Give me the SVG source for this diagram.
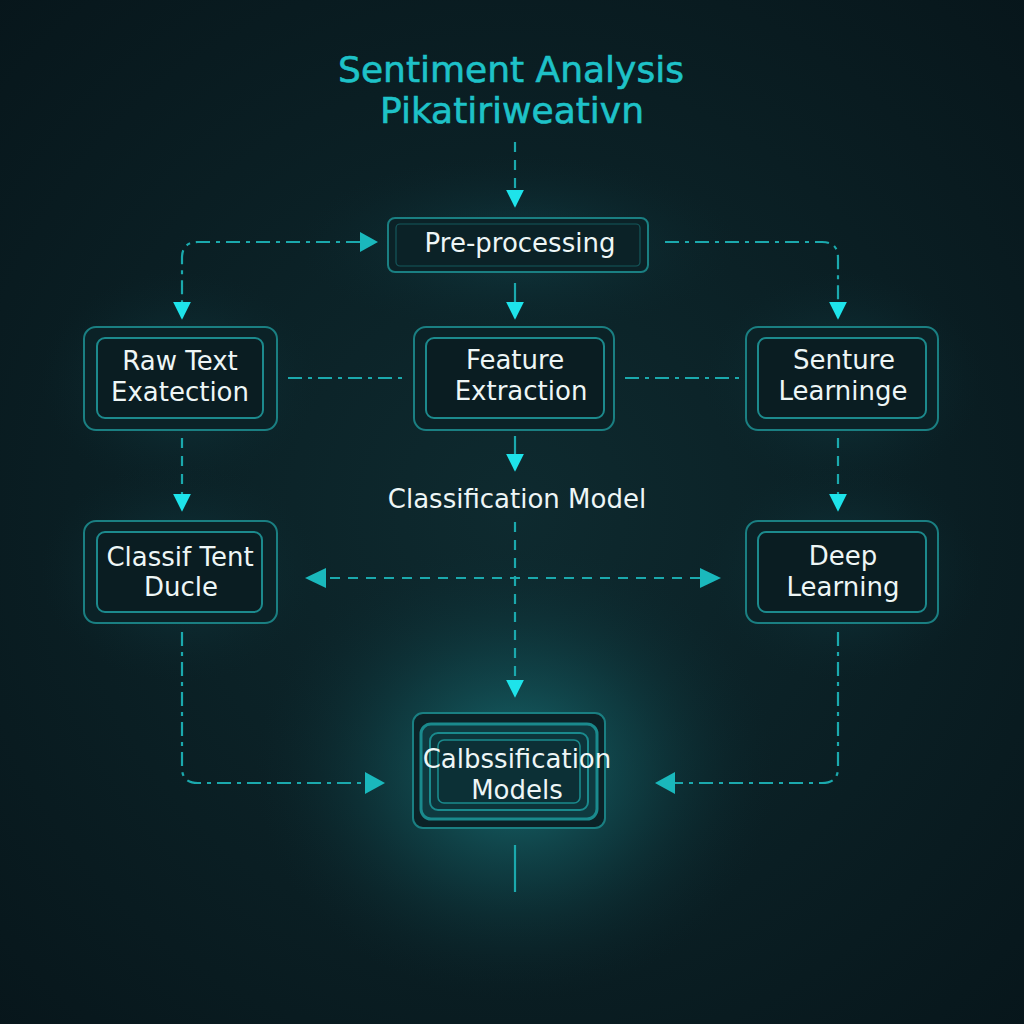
<svg xmlns="http://www.w3.org/2000/svg" width="1024" height="1024" viewBox="0 0 1024 1024">
<defs>
<radialGradient id="bg" cx="0.5" cy="0.5" r="0.75">
<stop offset="0" stop-color="#0e2a2f"/>
<stop offset="1" stop-color="#07151a"/>
</radialGradient>
<radialGradient id="glow" cx="0.5" cy="0.5" r="0.5">
<stop offset="0" stop-color="#1a7f84" stop-opacity="0.8"/>
<stop offset="0.5" stop-color="#135a60" stop-opacity="0.4"/>
<stop offset="1" stop-color="#0c2a30" stop-opacity="0"/>
</radialGradient>
<radialGradient id="glow2" cx="0.5" cy="0.5" r="0.5">
<stop offset="0" stop-color="#14505a" stop-opacity="0.5"/>
<stop offset="1" stop-color="#0c2a30" stop-opacity="0"/>
</radialGradient>
<marker id="ah" viewBox="0 0 10 10" refX="9" refY="5" markerWidth="18" markerHeight="18" markerUnits="userSpaceOnUse" orient="auto">
<path d="M0,0 L10,5 L0,10 Z" fill="#1ee3ea"/>
</marker>
</defs>
<style>
.title{font-family:"DejaVu Sans","Liberation Sans",sans-serif;fill:#1ec2c8;font-size:36px;text-anchor:middle;stroke:#1ec2c8;stroke-width:0.6}
.lbl{font-family:"DejaVu Sans","Liberation Sans",sans-serif;fill:#eef6f6;font-size:26px;text-anchor:middle}
.outer{fill:#0b2227;stroke:#1a7f82;stroke-width:2}
.inner{fill:#0a1d22;stroke:#1c8a8d;stroke-width:2}
.dash{fill:none;stroke:#1ba9ad;stroke-width:2.2;stroke-dasharray:14 6 4 6}
.dash2{fill:none;stroke:#1ba9ad;stroke-width:2.2;stroke-dasharray:10 8}
.solid{fill:none;stroke:#1ba9ad;stroke-width:2.2}
</style>
<rect width="1024" height="1024" fill="url(#bg)"/>
<ellipse cx="515" cy="770" rx="260" ry="230" fill="url(#glow)"/>
<ellipse cx="518" cy="245" rx="220" ry="90" fill="url(#glow2)"/>
<ellipse cx="180" cy="380" rx="140" ry="110" fill="url(#glow2)"/>
<ellipse cx="842" cy="380" rx="140" ry="110" fill="url(#glow2)"/>
<ellipse cx="842" cy="572" rx="140" ry="110" fill="url(#glow2)"/>
<ellipse cx="180" cy="572" rx="140" ry="110" fill="url(#glow2)"/>

<text class="title" x="511" y="82">Sentiment Analysis</text>
<text class="title" x="512" y="123">Pikatiriweativn</text>

<g id="connectors">
<path class="dash2" d="M515,142 V206" marker-end="url(#ah)"/>
<path class="dash" d="M360,242 H198 Q182,242 182,258 V318" marker-end="url(#ah)"/>
<path d="M360,232 L378,242 L360,252 Z" fill="#1ab8bc"/>
<path class="dash" d="M665,242 H822 Q838,242 838,258 V318" marker-end="url(#ah)"/>
<path class="solid" d="M515,283 V318" marker-end="url(#ah)"/>
<path class="dash" d="M288,378 H405" stroke-dasharray="40 4 30 4"/>
<path class="dash" d="M625,378 H740" stroke-dasharray="40 4 30 4"/>
<path class="dash2" d="M182,438 V510" marker-end="url(#ah)"/>
<path class="dash2" d="M838,438 V510" marker-end="url(#ah)"/>
<path class="solid" d="M515,436 V470" marker-end="url(#ah)"/>
<path class="dash2" d="M515,522 V696" marker-end="url(#ah)"/>
<path class="dash2" d="M330,578 H700"/>
<path d="M326,568 L305,578 L326,588 Z" fill="#1ab8bc"/>
<path d="M700,568 L721,578 L700,588 Z" fill="#1ab8bc"/>
<path class="dash" d="M182,632 V768 Q182,783 198,783 H366"/>
<path d="M365,772 L385,783 L365,794 Z" fill="#1ab8bc"/>
<path class="dash" d="M838,632 V768 Q838,783 822,783 H672"/>
<path d="M675,772 L655,783 L675,794 Z" fill="#1ab8bc"/>
<path class="solid" d="M515,845 V892"/>
</g>

<g id="pre">
<rect class="outer" x="388" y="218" width="260" height="54" rx="7"/>
<rect x="396" y="224" width="244" height="42" rx="4" fill="none" stroke="#15585c" stroke-width="1.2"/>
<text class="lbl" x="520" y="252" font-size="28">Pre-processing</text>
</g>

<g id="raw">
<rect class="outer" x="84" y="327" width="193" height="103" rx="12"/>
<rect class="inner" x="97" y="338" width="166" height="80" rx="8"/>
<text class="lbl" x="180" y="370">Raw Text</text>
<text class="lbl" x="180" y="401">Exatection</text>
</g>

<g id="feature">
<rect class="outer" x="414" y="327" width="200" height="103" rx="12"/>
<rect class="inner" x="426" y="338" width="178" height="80" rx="8"/>
<text class="lbl" x="515" y="369">Feature</text>
<text class="lbl" x="521" y="400">Extraction</text>
</g>

<g id="senture">
<rect class="outer" x="746" y="327" width="192" height="103" rx="12"/>
<rect class="inner" x="758" y="338" width="168" height="80" rx="8"/>
<text class="lbl" x="844" y="369">Senture</text>
<text class="lbl" x="843" y="400">Learninge</text>
</g>

<text class="lbl" id="cm" x="517" y="508" font-size="27">Classification Model</text>

<g id="classif">
<rect class="outer" x="84" y="521" width="193" height="102" rx="12"/>
<rect class="inner" x="97" y="532" width="165" height="80" rx="8"/>
<text class="lbl" x="180" y="566" font-size="21">Classif Tent</text>
<text class="lbl" x="181" y="596" font-size="21">Ducle</text>
</g>

<g id="deep">
<rect class="outer" x="746" y="521" width="192" height="102" rx="12"/>
<rect class="inner" x="758" y="532" width="168" height="80" rx="8"/>
<text class="lbl" x="843" y="565">Deep</text>
<text class="lbl" x="843" y="596">Learning</text>
</g>

<g id="models">
<rect class="outer" x="413" y="713" width="192" height="115" rx="10" fill="#0f3a40"/>
<rect x="421" y="724" width="176" height="95" rx="10" fill="#0f3a40" stroke="#1a8a8d" stroke-width="3"/>
<rect x="430" y="733" width="158" height="77" rx="8" fill="#0d343a" stroke="#1a8a8d" stroke-width="2"/>
<rect x="438" y="740" width="142" height="63" rx="6" fill="#0c3036" stroke="#1a8a8d" stroke-width="1.6"/>
<text class="lbl" x="517" y="768" font-size="25">Calbssification</text>
<text class="lbl" x="517" y="799" font-size="25">Models</text>
</g>
</svg>
